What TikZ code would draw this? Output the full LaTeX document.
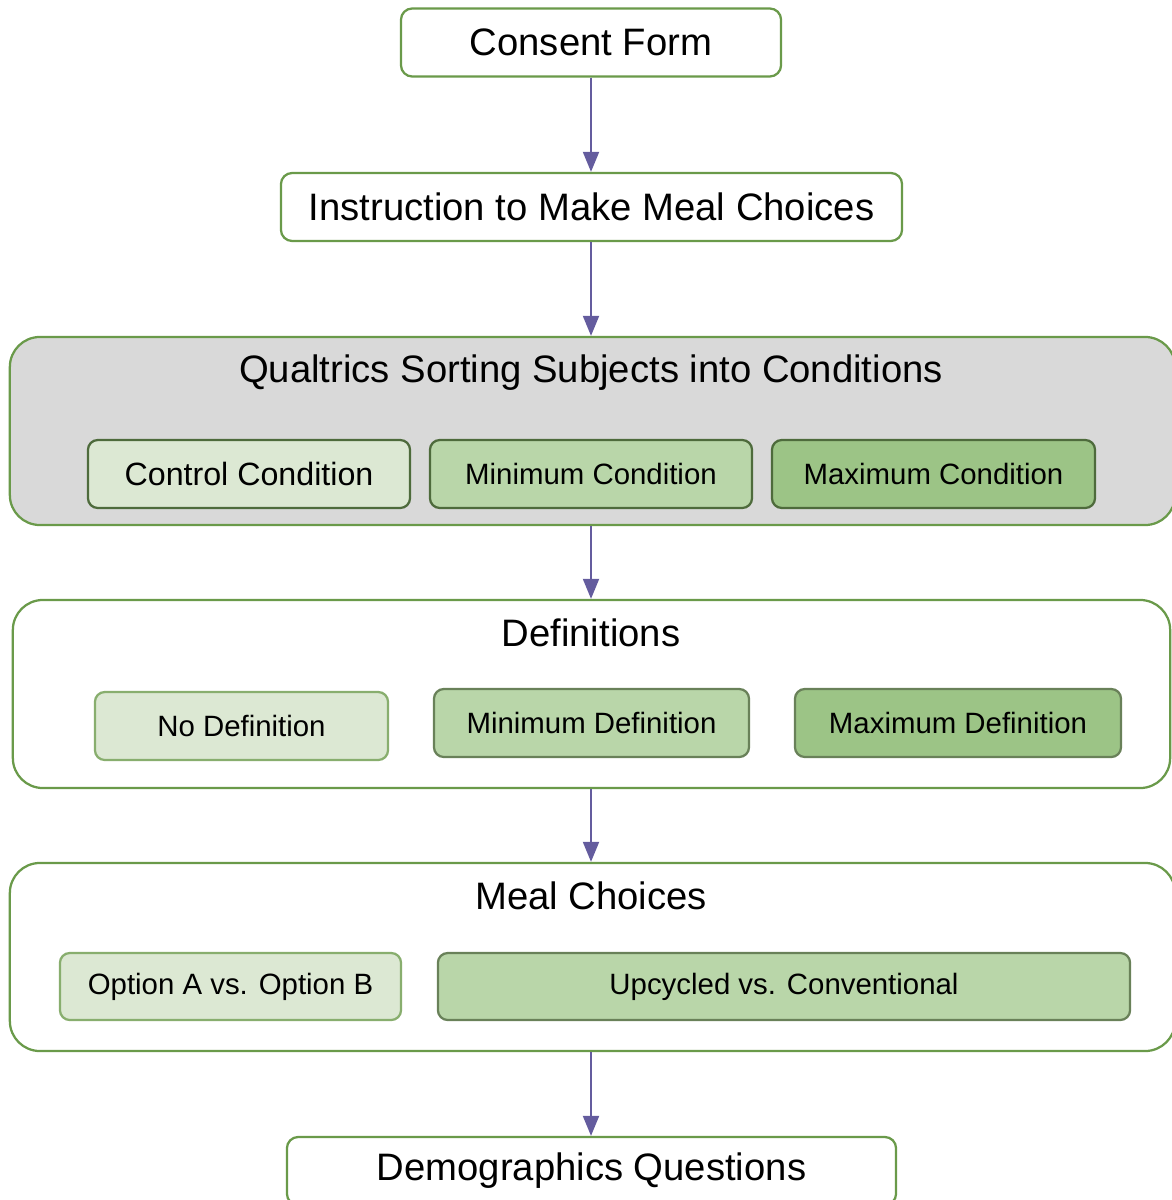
\documentclass[tikz,border=0pt]{standalone}
\usepackage{fontspec}
\setmainfont{Liberation Sans}
\usetikzlibrary{arrows.meta, positioning}
\definecolor{gline}{HTML}{6A9A4A}
\definecolor{gdark}{HTML}{4E6B3C}
\definecolor{gpale}{HTML}{DCE8D3}
\definecolor{gmid}{HTML}{B9D6A9}
\definecolor{gdeep}{HTML}{9CC486}
\definecolor{ggrey}{HTML}{D9D9D9}
\definecolor{cpurple}{HTML}{645C9E}
\tikzset{
  every picture/.style={line width=1.6pt},
  bigtext/.style={font=\fontsize{27.2}{32}\selectfont},
  smalltext/.style={font=\fontsize{20.9}{25}\selectfont},
  stepbox/.style={draw=gline, fill=white, rounded corners=8pt, inner sep=0pt, minimum height=1.7cm, bigtext},
  group/.style={draw=gline, fill=#1, rounded corners=0.75cm, inner sep=0pt, minimum width=29.125cm, minimum height=4.7cm},
  group/.default=white,
  option/.style={draw=#1, rounded corners=7pt, inner sep=0pt, minimum height=1.7cm, smalltext},
  option/.default=gline,
  arrow/.style={-{Triangle[length=0.5cm, width=0.4cm]}, draw=cpurple, fill=cpurple, line width=1.4pt},
}
\begin{document}
\begin{tikzpicture}[x=0.025cm, y=-0.025cm]
  \useasboundingbox (0,0) rectangle (1171,1200);
  % steps
  \node[stepbox, minimum width=9.5cm] (consent) at (591,42.5) {Consent Form};
  \node[stepbox, minimum width=15.525cm] (instr) at (591.5,207) {Instruction to Make Meal Choices};
  % conditions
  \node[group=ggrey] (sortgrp) at (592.5,431) {};
  \node[bigtext] (sorttitle) at (591,373) {Qualtrics Sorting Subjects into Conditions};
  \node[option=gdark, fill=gpale, minimum width=8.05cm, font=\fontsize{22.9}{27}\selectfont] (control) at (249,474) {Control Condition};
  \node[option=gdark, fill=gmid, minimum width=8.05cm] (mincond) at (591,474) {Minimum Condition};
  \node[option=gdark, fill=gdeep, minimum width=8.075cm] (maxcond) at (933.5,474) {Maximum Condition};
  % definitions
  \node[group, minimum width=28.925cm] (defgrp) at (591.5,694) {};
  \node[bigtext] (deftitle) at (591,633) {Definitions};
  \node[option=gline!80, fill=gpale, minimum width=7.325cm] (nodef) at (241.5,726) {No Definition};
  \node[option=gdark!85, fill=gmid, minimum width=7.875cm] (mindef) at (591.5,723) {Minimum Definition};
  \node[option=gdark!85, fill=gdeep, minimum width=8.15cm] (maxdef) at (958,723) {Maximum Definition};
  % meal choices
  \node[group] (mealgrp) at (592.5,957) {};
  \node[bigtext] (mealtitle) at (591,896) {Meal Choices};
  \node[option=gline!80, fill=gpale, minimum width=8.525cm, minimum height=1.675cm] (optab) at (230.5,986.5) {Option A vs. Option B};
  \node[option=gdark!85, fill=gmid, minimum width=17.3cm, minimum height=1.675cm] (upcyc) at (784,986.5) {Upcycled vs. Conventional};
  \node[stepbox, minimum width=15.225cm] (demo) at (591.5,1171) {Demographics Questions};
  % arrows
  \draw[arrow] (consent.south) -- (instr.north -| consent);
  \draw[arrow] (instr.south -| consent) -- (sortgrp.north -| consent);
  \draw[arrow] (sortgrp.south -| consent) -- (defgrp.north -| consent);
  \draw[arrow] (defgrp.south -| consent) -- (mealgrp.north -| consent);
  \draw[arrow] (mealgrp.south -| consent) -- (demo.north -| consent);
\end{tikzpicture}
\end{document}
